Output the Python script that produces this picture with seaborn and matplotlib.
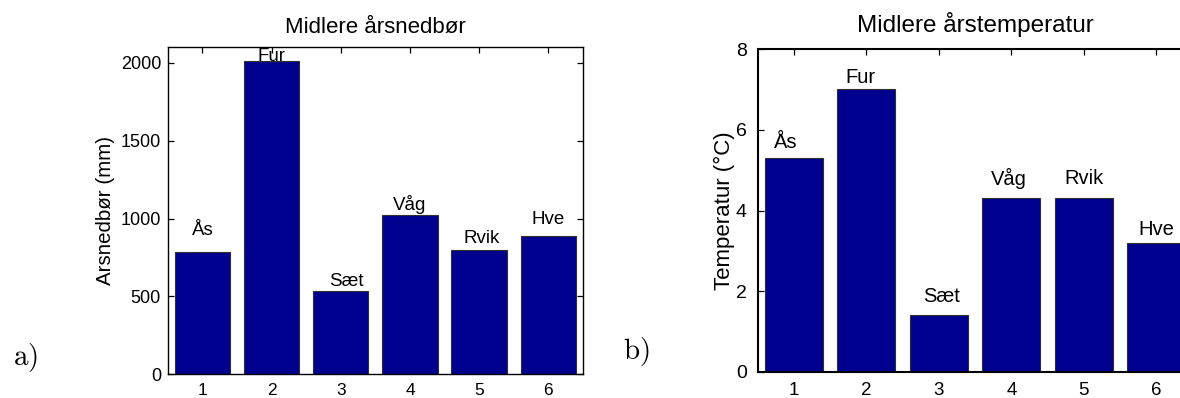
import matplotlib
matplotlib.use("Agg")
import matplotlib.pyplot as plt
import seaborn as sns
import pandas as pd

# Weather stations and their yearly means
stations = ["Ås", "Fur", "Sæt", "Våg", "Rvik", "Hve"]
station_no = [1, 2, 3, 4, 5, 6]
precip_mm = [785, 2010, 535, 1020, 800, 890]
temp_c = [5.3, 7.0, 1.4, 4.3, 4.3, 3.2]
precip_ticks = [0, 500, 1000, 1500, 2000]
temp_ticks = [0, 2, 4, 6, 8]

sns.set_theme(style="white")
plt.rcParams["font.family"] = ["Liberation Sans", "DejaVu Sans"]
plt.rcParams["mathtext.fontset"] = "cm"

BAR_COLOR = "#00008F"
EDGE_COLOR = "#303030"

fig = plt.figure(figsize=(11.8, 3.98), dpi=100)
W, H = 1180.0, 398.0


def px_axes(left, top, right, bottom):
    return fig.add_axes([left / W, 1 - bottom / H, (right - left) / W, (bottom - top) / H])


def panel(ax, values, ticks, ylim, title, ylabel, label_dy, label_dx, fs, spine_w,
          title_pad, xpad, ypad, ylabel_x, tag, tag_xy):
    df = pd.DataFrame({"station": station_no, "value": values})
    sns.barplot(data=df, x="station", y="value", ax=ax, native_scale=True,
                color=BAR_COLOR, saturation=1, width=0.8, errorbar=None,
                edgecolor=EDGE_COLOR, linewidth=0.8)
    ax.set_xlim(0.5, 6.5)
    ax.set_ylim(*ylim)
    ax.set_xticks(station_no)
    ax.set_xticklabels([str(n) for n in station_no])
    ax.set_yticks(ticks)
    ax.set_yticklabels([str(t) for t in ticks])
    ax.set_xlabel("")
    for s in ax.spines.values():
        s.set_visible(True)
        s.set_color("black")
        s.set_linewidth(spine_w)
    ax.tick_params(axis="both", direction="in", length=4, width=0.9, color="black",
                   top=True, right=True, bottom=True, left=True,
                   labelcolor="black")
    ax.tick_params(axis="x", pad=xpad, labelsize=fs["xtick"])
    ax.tick_params(axis="y", pad=ypad, labelsize=fs["ytick"])
    ax.set_title(title, fontsize=fs["title"], pad=title_pad, color="black")
    ax.set_ylabel(ylabel, fontsize=fs["ylabel"], color="black")
    ax.yaxis.label.set(rotation_mode="default", ha="center", va="center")
    bbox = ax.get_position()
    ax.yaxis.set_label_coords(ylabel_x / W, bbox.y0 + bbox.height / 2,
                              transform=fig.transFigure)
    for x, v, name, dy, dx in zip(station_no, values, stations, label_dy, label_dx):
        ax.text(x + dx, v + dy, name, ha="center", va="baseline",
                fontsize=fs["label"], color="black")
    fig.text(tag_xy[0] / W, 1 - tag_xy[1] / H, tag, ha="center", va="center",
             fontsize=21, color="black")


ax_a = px_axes(167.7, 47.3, 583.0, 374.3)
panel(ax_a, precip_mm, precip_ticks, (0, 2100), "Midlere årsnedbør", "Arsnedbør (mm)",
      label_dy=[110, 0, 32, 37, 46, 77], label_dx=[0, 0, 0.08, 0, 0.03, 0],
      fs={"xtick": 12.5, "ytick": 13, "label": 13.5, "ylabel": 14.8, "title": 16},
      spine_w=1.0, title_pad=10.5, xpad=6.3, ypad=4.8, ylabel_x=105.5,
      tag=r"$\mathrm{a)}$", tag_xy=(25, 358))

ax_b = px_axes(757.7, 49.0, 1192.5, 372.0)
panel(ax_b, temp_c, temp_ticks, (0, 8), "Midlere årstemperatur", "Temperatur (°C)",
      label_dy=[0.25, 0.15, 0.33, 0.33, 0.35, 0.19], label_dx=[-0.12, -0.08, 0.04, -0.03, 0, 0],
      fs={"xtick": 13.5, "ytick": 14, "label": 14.5, "ylabel": 16, "title": 17.5},
      spine_w=1.5, title_pad=12.5, xpad=7.3, ypad=7.9, ylabel_x=724.5,
      tag=r"$\mathrm{b)}$", tag_xy=(636, 352))

fig.savefig("out.png", dpi=100, facecolor="white")
